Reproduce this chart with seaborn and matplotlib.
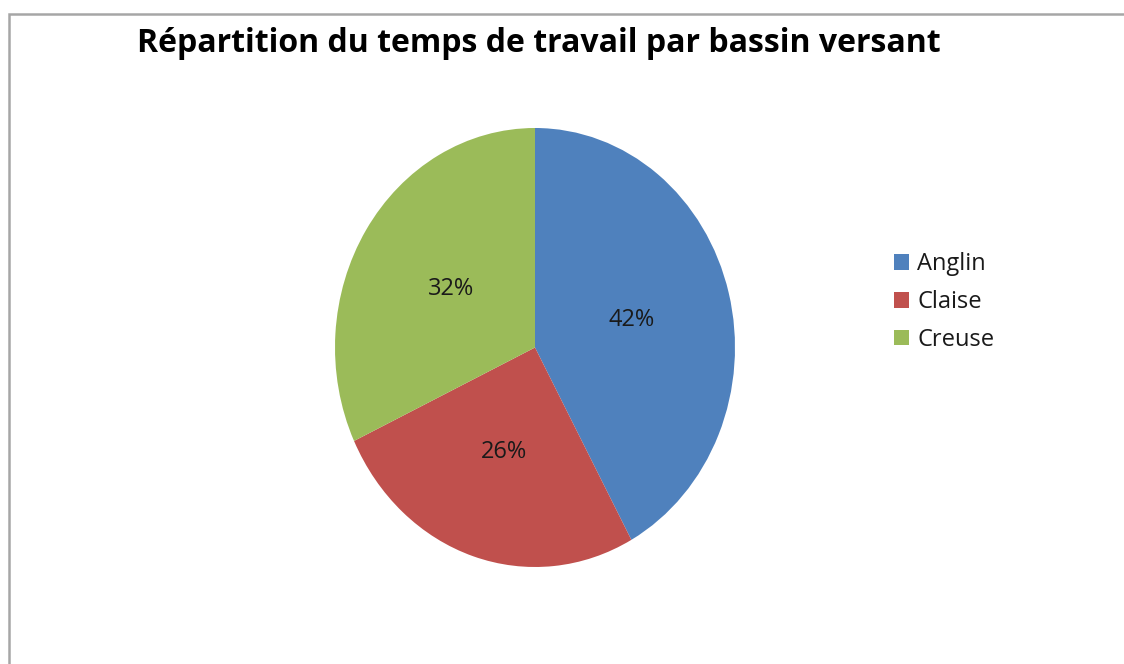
import matplotlib
matplotlib.use('Agg')
import matplotlib.pyplot as plt
from matplotlib.patches import Rectangle
import seaborn as sns

# temps de travail par bassin versant (%)
bassins = ['Anglin', 'Claise', 'Creuse']
parts = [42, 26, 32]
couleurs = ['#4F81BD', '#C0504D', '#9BBB59']

sns.set_theme(style='white')
plt.rcParams['font.family'] = ['Open Sans', 'DejaVu Sans']

W, H = 1124, 664
fig = plt.figure(figsize=(W / 100, H / 100), dpi=100)
fig.patch.set_facecolor('white')

# cadre gris (bords gauche et haut)
fig.patches.append(Rectangle((9 / W, -0.1), 1.2, (H - 14) / H + 0.1,
                             transform=fig.transFigure, fill=False,
                             edgecolor='#a6a6a6', linewidth=1.8))

# camembert légèrement étiré verticalement, comme dans l'original
ax = fig.add_axes([335 / W, (H - 567) / H, 400 / W, 439 / H])
wedges, texts, autotexts = ax.pie(parts, colors=sns.color_palette(couleurs),
                                  startangle=90, counterclock=False,
                                  autopct='%1.0f%%', pctdistance=0.5,
                                  wedgeprops=dict(linewidth=0),
                                  textprops=dict(fontsize=17, color='#1a1a1a'))
ax.set_aspect('auto')
ax.set_xlim(-1, 1)
ax.set_ylim(-1, 1)
ax.axis('off')

fig.text(539 / W, 1 - 44 / H, 'Répartition du temps de travail par bassin versant',
         ha='center', va='center', fontsize=23, fontweight='bold', color='black')

fig.legend(wedges, bassins, loc='center left',
           bbox_to_anchor=(882 / W, 1 - 302 / H), frameon=False,
           fontsize=17, handlelength=0.64, handleheight=0.64,
           handletextpad=0.36, labelspacing=0.58, borderpad=0,
           labelcolor='#1a1a1a')

fig.savefig('out.png', dpi=100)
